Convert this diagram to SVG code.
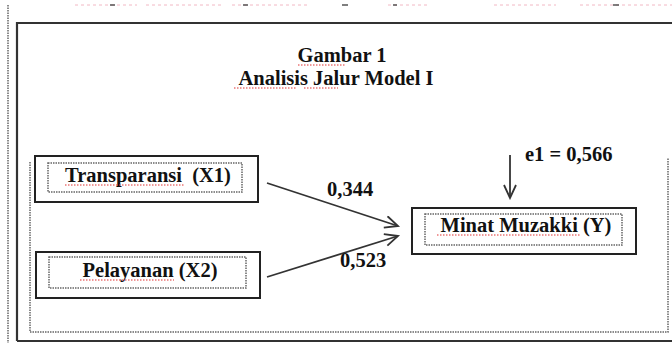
<svg xmlns="http://www.w3.org/2000/svg" width="672" height="343" viewBox="0 0 672 343">
<style>
text{font-family:"Liberation Serif","DejaVu Serif","Times New Roman",serif;font-weight:bold;fill:#111;font-size:20.5px;}
.t{text-anchor:middle;}
.box{fill:#fff;stroke:#222;stroke-width:2;}
.dot{fill:none;stroke:#666;stroke-width:1.5;stroke-dasharray:1.5 1;}
.sp{fill:none;stroke:#e03030;stroke-width:1;stroke-dasharray:1.5 1.5;}
.edge{fill:none;stroke:#333;stroke-width:1.8;}
</style>
<defs>
<marker id="ah" markerUnits="userSpaceOnUse" markerWidth="16" markerHeight="14" refX="14" refY="7" orient="auto">
<path d="M1,1 L14,7 L1,13" fill="none" stroke="#333" stroke-width="1.8"/>
</marker>
</defs>
<rect width="672" height="343" fill="#fff"/>
<g id="top-remnants">
<path d="M75,5 H137 M146,5 H221 M232,5 H309 M388,5 H427 M494,5 H556 M580,5 H672" fill="none" stroke="#f2b8c4" stroke-width="1" stroke-dasharray="3 3"/>
<path d="M110,5 H115 M243,5 H248 M342,5 H348 M393,5 H397 M613,5 H619" fill="none" stroke="#555" stroke-width="1.5"/>
</g>
<path d="M8,5 V343" class="dot" stroke="#888"/>
<path d="M17,341 V23 H672 M17,341 H672" fill="none" stroke="#333" stroke-width="2.2"/>
<path d="M30,162 V332 H668 V158" class="dot"/>
<g id="title">
<text class="t" x="342" y="62">Gambar 1</text>
<text class="t" x="336" y="85">Analisis Jalur Model I</text>
<path class="sp" d="M298,65 H346 M234,88 H297 M304,88 H338"/>
</g>
<g id="connectors">
<path class="edge" d="M267,183 L398,226" marker-end="url(#ah)"/>
<path class="edge" d="M267,277 L398,236" marker-end="url(#ah)"/>
<path class="edge" d="M510,155 L510,198" marker-end="url(#ah)"/>
<text x="327" y="196">0,344</text>
<text x="340" y="267">0,523</text>
<text x="525" y="161">e1 = 0,566</text>
</g>
<g id="node-x1">
<rect class="box" x="35" y="156" width="223" height="46"/>
<rect class="dot" x="48" y="163" width="194" height="29"/>
<text class="t" x="148" y="182" xml:space="preserve">Transparansi  (X1)</text>
<path class="sp" d="M65,185 H185"/>
</g>
<g id="node-x2">
<rect class="box" x="36" y="252" width="224" height="46"/>
<rect class="dot" x="49" y="257" width="197" height="31"/>
<text class="t" x="150" y="277">Pelayanan (X2)</text>
<path class="sp" d="M80,280 H174"/>
</g>
<g id="node-y">
<rect class="box" x="412" y="208" width="224" height="46"/>
<rect class="dot" x="425" y="214" width="197" height="31"/>
<text class="t" x="526" y="232">Minat Muzakki (Y)</text>
<path class="sp" d="M437,235 H580"/>
</g>
</svg>
